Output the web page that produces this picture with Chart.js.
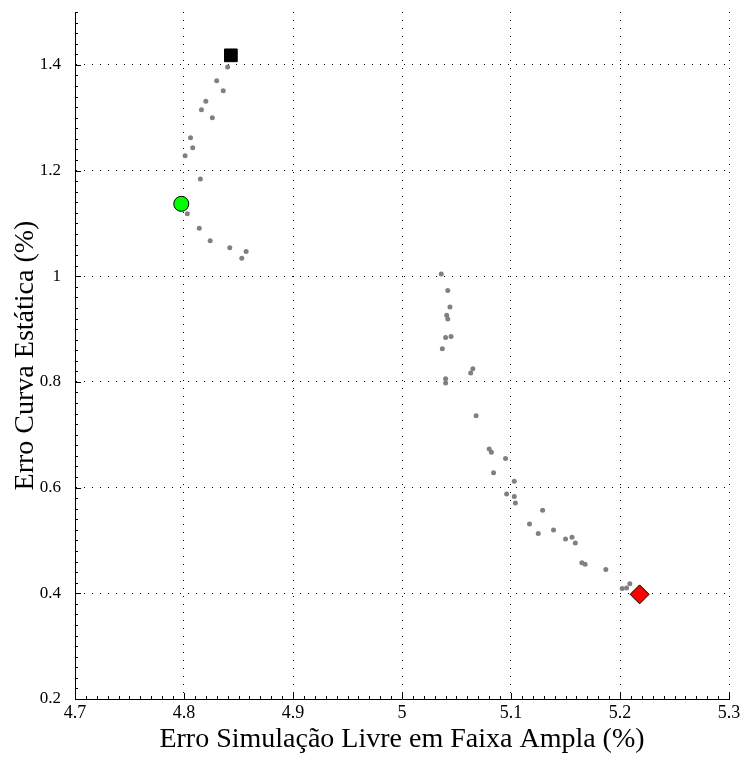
<!DOCTYPE html>
<html>
<head>
<meta charset="utf-8">
<script src="https://cdn.jsdelivr.net/npm/chart.js@4"></script>
<style>
  html, body { margin: 0; padding: 0; background: #fff; }
  #wrap { width: 745px; height: 758px; }
</style>
</head>
<body>
<div id="wrap"><canvas id="paretoChart" width="745" height="758"></canvas></div>
<script>
const ctx = document.getElementById('paretoChart');

//Pareto front points (x = free simulation error, y = static curve error)
var frontX = [4.840, 4.830, 4.836, 4.820, 4.816, 4.826, 4.806, 4.808, 4.801, 4.815,
              4.803, 4.814, 4.824, 4.842, 4.857, 4.853,
              5.036, 5.042, 5.044, 5.041, 5.042, 5.040, 5.045, 5.037, 5.065, 5.063,
              5.040, 5.040, 5.068, 5.080, 5.082, 5.095, 5.084, 5.103, 5.096, 5.103,
              5.104, 5.129, 5.117, 5.125, 5.139, 5.150, 5.156, 5.159, 5.165, 5.168,
              5.187, 5.202, 5.206, 5.209];
var frontY = [1.396, 1.370, 1.351, 1.331, 1.315, 1.300, 1.262, 1.243, 1.228, 1.184,
              1.118, 1.091, 1.067, 1.054, 1.047, 1.034,
              1.004, 0.973, 0.942, 0.926, 0.919, 0.884, 0.886, 0.863, 0.825, 0.817,
              0.806, 0.798, 0.736, 0.673, 0.667, 0.655, 0.628, 0.612, 0.588, 0.583,
              0.571, 0.557, 0.531, 0.513, 0.520, 0.503, 0.506, 0.495, 0.458, 0.455,
              0.445, 0.409, 0.410, 0.418];

//Highlighted solutions
var squarePt = [4.843, 1.418];
var circlePt = [4.7975, 1.137];
var diamondPt = [5.218, 0.398];

//Axis limits and ticks
var xLimits = [4.7, 5.3];
var yLimits = [0.2, 1.5];
var xStep = 0.1;
var yStep = 0.2;

var serif = 'Liberation Serif, Times New Roman, serif';

function toPoints(xs, ys) {
    return xs.map((x, i) => ({x: x, y: ys[i]}));
}

//Inward major and minor tick marks on the left and bottom axes
const insideTicks = {
    id: 'insideTicks',
    afterDraw(chart) {
        const c = chart.ctx;
        const xs = chart.scales.x, ys = chart.scales.y;
        const a = chart.chartArea;
        c.save();
        c.strokeStyle = '#000';
        c.lineWidth = 1;
        c.beginPath();
        for (let i = 0; i <= 60; i++) {
            const v = xLimits[0] + i * 0.01;
            const px = Math.round(xs.getPixelForValue(v)) + 0.5;
            const len = (i % 10 === 0) ? 6 : 3;
            c.moveTo(px, a.bottom);
            c.lineTo(px, a.bottom - len);
        }
        for (let i = 0; i <= 65; i++) {
            const v = yLimits[0] + i * 0.02;
            if (v > yLimits[1] + 1e-9) break;
            const py = Math.round(ys.getPixelForValue(v)) + 0.5;
            const len = (i % 10 === 0) ? 6 : 3;
            c.moveTo(a.left, py);
            c.lineTo(a.left + len, py);
        }
        c.stroke();
        c.restore();
    }
};

new Chart(ctx, {
    type: 'scatter',
    data: {
        datasets: [
            {
                label: 'Front',
                data: toPoints(frontX, frontY),
                pointRadius: 2.5,
                pointBackgroundColor: '#808080',
                pointBorderWidth: 0,
                order: 2
            },
            {
                label: 'Square',
                data: [{x: squarePt[0], y: squarePt[1]}],
                pointStyle: 'rect',
                pointRadius: 9,
                pointBackgroundColor: '#000',
                pointBorderColor: '#000',
                pointBorderWidth: 1,
                order: 1
            },
            {
                label: 'Circle',
                data: [{x: circlePt[0], y: circlePt[1]}],
                pointStyle: 'circle',
                pointRadius: 7.5,
                pointBackgroundColor: '#00ff00',
                pointBorderColor: '#000',
                pointBorderWidth: 1,
                order: 1
            },
            {
                label: 'Diamond',
                data: [{x: diamondPt[0], y: diamondPt[1]}],
                pointStyle: 'rectRot',
                pointRadius: 9.5,
                pointBackgroundColor: '#ff0000',
                pointBorderColor: '#000',
                pointBorderWidth: 1,
                order: 1
            }
        ]
    },
    options: {
        responsive: false,
        animation: false,
        layout: { padding: { left: 0, right: 16, top: 12, bottom: 0 } },
        plugins: {
            legend: { display: false },
            tooltip: { enabled: false }
        },
        scales: {
            x: {
                type: 'linear',
                min: xLimits[0],
                max: xLimits[1],
                afterFit: s => { s.height = 59; },
                ticks: {
                    stepSize: xStep,
                    color: '#000',
                    padding: 3,
                    maxRotation: 0,
                    font: { family: serif, size: 18 },
                    callback: v => String(+v.toFixed(1))
                },
                grid: { color: '#000', lineWidth: 1, drawTicks: false },
                border: { display: true, color: '#000', width: 1, dash: [1, 7] },
                title: {
                    display: true,
                    text: 'Erro Simulação Livre em Faixa Ampla (%)',
                    color: '#000',
                    font: { family: serif, size: 28 },
                    padding: { top: 0, bottom: 2 }
                }
            },
            y: {
                type: 'linear',
                min: yLimits[0],
                max: yLimits[1],
                afterFit: s => { s.width = 75; s.paddingTop = 0; },
                ticks: {
                    stepSize: yStep,
                    includeBounds: false,
                    color: '#000',
                    padding: 14,
                    font: { family: serif, size: 17 },
                    callback: v => String(+v.toFixed(1))
                },
                grid: { color: '#000', lineWidth: 1, drawTicks: false },
                border: { display: true, color: '#000', width: 1, dash: [1, 7] },
                title: {
                    display: true,
                    text: 'Erro Curva Estática (%)',
                    color: '#000',
                    font: { family: serif, size: 28 },
                    padding: { top: 9, bottom: 0 }
                }
            }
        }
    },
    plugins: [insideTicks]
});
</script>
</body>
</html>
